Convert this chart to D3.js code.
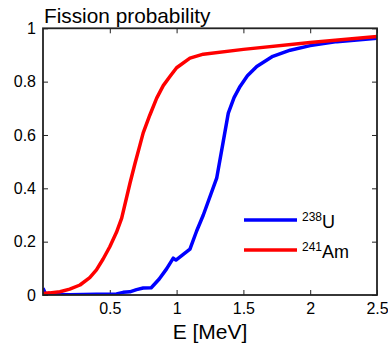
<!DOCTYPE html>
<html><head><meta charset="utf-8">
<script src="https://cdn.jsdelivr.net/npm/d3@7"></script>
<style>body{margin:0;background:#fff;} svg{display:block;font-family:"Liberation Sans",Arial,sans-serif;}</style>
</head><body>
<script>
const titleText = "Fission probability";
const xLabel = "E [MeV]";
const xTicks = [0.5, 1, 1.5, 2, 2.5];
const yTicks = [0, 0.2, 0.4, 0.6, 0.8, 1];
const yTickLabels = ["0", "0.2", "0.4", "0.6", "0.8", "1"];

const uE = [0, 0.02, 0.05, 0.1, 0.2, 0.3, 0.4, 0.5, 0.55, 0.6, 0.65, 0.7, 0.75, 0.81, 0.87, 0.925, 0.975, 0.995, 1.1, 1.15, 1.2, 1.3, 1.35, 1.387, 1.43, 1.475, 1.53, 1.6, 1.72, 1.85, 2.0, 2.2, 2.5];
const uP = [0.025, 0.003, 0.002, 0.002, 0.001, 0.002, 0.003, 0.003, 0.004, 0.01, 0.012, 0.02, 0.026, 0.027, 0.06, 0.098, 0.138, 0.131, 0.172, 0.24, 0.3, 0.438, 0.578, 0.682, 0.74, 0.782, 0.822, 0.857, 0.895, 0.918, 0.935, 0.95, 0.963];

const amE = [0, 0.05, 0.127, 0.2, 0.277, 0.35, 0.4, 0.45, 0.5, 0.55, 0.589, 0.651, 0.689, 0.726, 0.75, 0.8, 0.851, 0.9, 0.95, 1.0, 1.1, 1.2, 1.5, 2.0, 2.5];
const amP = [0.006, 0.008, 0.012, 0.022, 0.0375, 0.065, 0.094, 0.135, 0.181, 0.235, 0.288, 0.419, 0.494, 0.563, 0.608, 0.675, 0.738, 0.785, 0.819, 0.852, 0.888, 0.903, 0.921, 0.947, 0.969];

const seriesNames = [["238", "U"], ["241", "Am"]];
const seriesColors = ["#0000ff", "#ff0000"];

const W = 388, H = 347;
const L = 43, R = 377, T = 28.3, B = 295;
const svg = d3.select("body").append("svg").attr("width", W).attr("height", H);
const x = d3.scaleLinear().domain([0, 2.5]).range([L, R]);
const y = d3.scaleLinear().domain([0, 1]).range([B, T]);

const line = d3.line().x(d => x(d[0])).y(d => y(d[1]));
const seriesData = [uE.map((e, i) => [e, uP[i]]), amE.map((e, i) => [e, amP[i]])];

svg.append("clipPath").attr("id", "c").append("rect")
  .attr("x", L).attr("y", T - 3).attr("width", R - L).attr("height", B - T + 3);

const tickLen = 5;
const gx = svg.append("g").attr("transform", `translate(0,${B})`)
  .call(d3.axisBottom(x).tickValues(xTicks).tickSize(-tickLen).tickPadding(8).tickFormat(d3.format("")));
const gxt = svg.append("g").attr("transform", `translate(0,${T})`)
  .call(d3.axisTop(x).tickValues(xTicks).tickSize(-tickLen).tickFormat(""));
const gy = svg.append("g").attr("transform", `translate(${L},0)`)
  .call(d3.axisLeft(y).tickValues(yTicks).tickSize(-tickLen).tickPadding(7).tickFormat((d, i) => yTickLabels[i]));
const gyr = svg.append("g").attr("transform", `translate(${R},0)`)
  .call(d3.axisRight(y).tickValues(yTicks).tickSize(-tickLen).tickFormat(""));
[gx, gxt, gy, gyr].forEach(g => {
  g.select(".domain").remove();
  g.selectAll(".tick line").attr("stroke", "#222").attr("stroke-width", 1);
  g.selectAll("text").attr("font-size", 16).attr("fill", "#000").attr("font-family", "Liberation Sans, Arial, sans-serif");
});
gx.selectAll("text").attr("dy", "0.71em");

svg.append("g").attr("clip-path", "url(#c)").selectAll("path.s").data(seriesData).join("path")
  .attr("class", "s").attr("d", line).attr("fill", "none")
  .attr("stroke", (d, i) => seriesColors[i]).attr("stroke-width", 3.5)
  .attr("stroke-linejoin", "round");

svg.append("rect").attr("x", L).attr("y", T).attr("width", R - L).attr("height", B - T)
  .attr("fill", "none").attr("stroke", "#222").attr("stroke-width", 1.8);

svg.append("text").attr("x", 44).attr("y", 23).attr("font-size", 20.8).text(titleText);
svg.append("text").attr("x", (L + R) / 2 + 0).attr("y", 339).attr("text-anchor", "middle").attr("font-size", 21).text(xLabel);

const lg = svg.append("g");
seriesNames.forEach((nm, i) => {
  const yy = 220 + i * 30;
  lg.append("line").attr("x1", 244).attr("x2", 297).attr("y1", yy).attr("y2", yy)
    .attr("stroke", seriesColors[i]).attr("stroke-width", 3.5);
  const t = lg.append("text").attr("x", 302).attr("y", yy + 8).attr("font-size", 18);
  t.append("tspan").attr("font-size", 12).attr("dy", -7).text(nm[0]);
  t.append("tspan").attr("dy", 7).text(nm[1]);
});
</script>
</body></html>
